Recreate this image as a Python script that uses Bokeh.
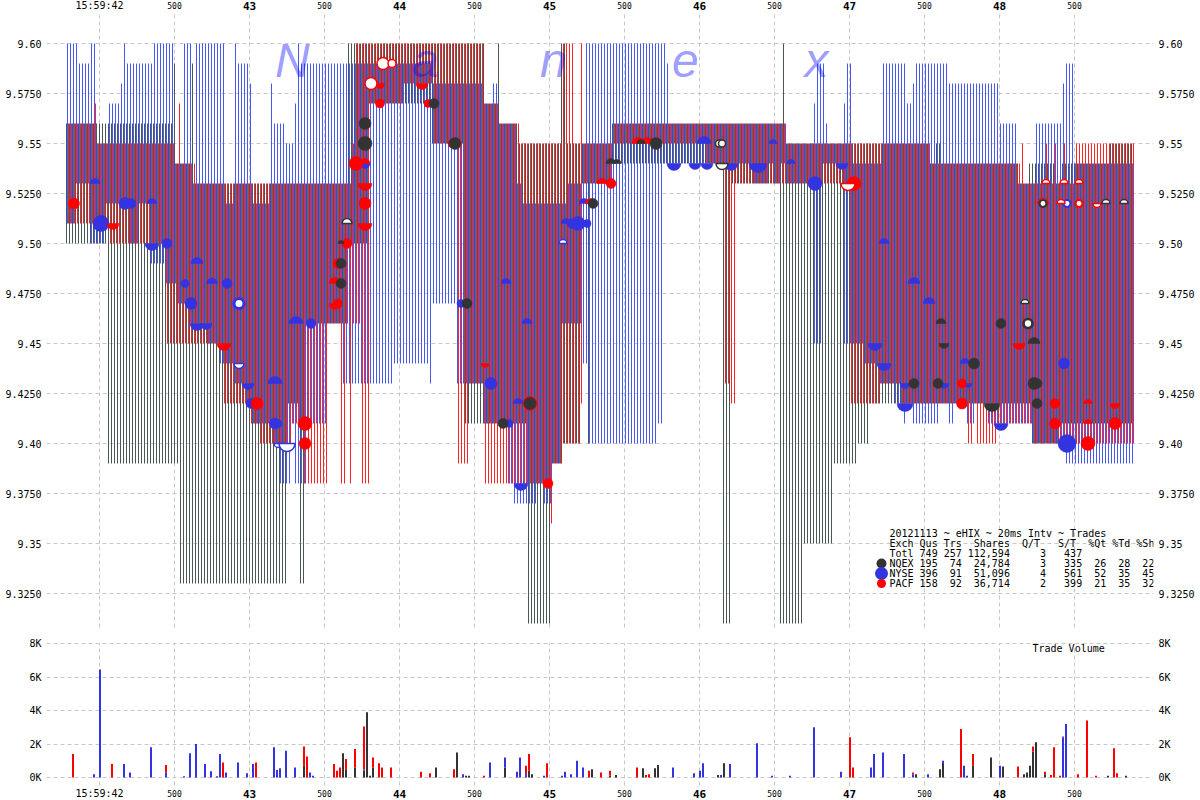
from math import pi
from bokeh.plotting import figure
from bokeh.layouts import column
from bokeh.models import Range1d, LinearAxis, Grid, FixedTicker
from bokeh.core.properties import value
from bokeh.embed import file_html
from bokeh.resources import INLINE

# x is the 20 ms interval number; 15:59:42 is interval 11
END = 356
# (first interval, price) step runs of each exchange's quote
nyse_hi = [(0,9.60),(4,9.59),(8,9.60),(10,9.55),(14,9.57),(18,9.58),(19,9.60),(20,9.59),(29,9.60),(36,9.54),(39,9.60),(42,9.53),(43,9.60),(53,9.52),(56,9.60),(57,9.59),(61,9.58),(62,9.52),(68,9.58),(69,9.56),(73,9.55),(76,9.57),(77,9.60),(78,9.59),(122,9.58),(139,9.57),(142,9.58),(144,9.56),(150,9.53),(152,9.52),(167,9.53),(172,9.55),(173,9.60),(200,9.59),(201,9.56),(240,9.55),(249,9.57),(250,9.59),(253,9.56),(254,9.55),(259,9.57),(260,9.59),(262,9.54),(272,9.59),(280,9.57),(282,9.58),(283,9.59),(294,9.58),(311,9.56),(317,9.53),(323,9.56),(332,9.58),(333,9.59),(336,9.54)]
nyse_lo = [(0,9.51),(3,9.53),(8,9.50),(13,9.52),(21,9.50),(24,9.52),(28,9.49),(33,9.48),(37,9.47),(41,9.46),(47,9.45),(51,9.44),(56,9.43),(60,9.42),(62,9.41),(69,9.40),(71,9.38),(75,9.41),(76,9.38),(80,9.41),(87,9.46),(92,9.43),(109,9.44),(121,9.43),(122,9.47),(130,9.43),(139,9.41),(147,9.38),(149,9.37),(157,9.38),(159,9.37),(162,9.39),(165,9.46),(172,9.44),(174,9.40),(197,9.41),(199,9.54),(229,9.53),(234,9.54),(236,9.53),(238,9.54),(240,9.53),(249,9.45),(252,9.54),(259,9.45),(266,9.44),(271,9.43),(276,9.42),(279,9.41),(280,9.42),(282,9.41),(291,9.42),(294,9.41),(296,9.42),(300,9.41),(303,9.42),(307,9.41),(322,9.40),(333,9.39)]
pacf_hi = [(0,9.56),(9,9.57),(10,9.55),(36,9.54),(37,9.57),(38,9.54),(43,9.53),(95,9.55),(96,9.60),(139,9.57),(144,9.56),(151,9.55),(165,9.60),(169,9.55),(171,9.60),(172,9.55),(182,9.56),(240,9.55),(288,9.54),(318,9.55),(319,9.53),(326,9.55),(327,9.53),(329,9.55),(330,9.53),(332,9.55),(333,9.53),(336,9.55)]
pacf_lo = [(0,9.51),(14,9.50),(33,9.45),(52,9.42),(61,9.41),(64,9.40),(75,9.41),(79,9.38),(87,9.46),(91,9.38),(93,9.46),(94,9.38),(95,9.46),(98,9.38),(101,9.57),(112,9.58),(122,9.55),(130,9.39),(134,9.43),(139,9.38),(161,9.36),(162,9.39),(165,9.40),(171,9.42),(172,9.53),(182,9.55),(213,9.54),(219,9.43),(221,9.42),(223,9.53),(261,9.42),(271,9.43),(278,9.42),(300,9.40),(302,9.42),(303,9.40),(310,9.41),(322,9.40)]
nqex_hi = [(0,9.56),(36,9.59),(37,9.54),(42,9.59),(43,9.53),(94,9.60),(140,9.57),(144,9.60),(145,9.56),(151,9.55),(165,9.60),(167,9.55),(182,9.56),(239,9.60),(240,9.55),(288,9.54),(290,9.55),(292,9.54),(318,9.53),(321,9.54),(330,9.53),(332,9.54),(348,9.55)]
nqex_lo = [(0,9.50),(14,9.39),(38,9.33),(74,9.42),(78,9.33),(80,9.46),(94,9.50),(101,9.57),(122,9.55),(133,9.41),(154,9.31),(162,9.39),(166,9.40),(172,9.53),(174,9.40),(175,9.53),(182,9.54),(219,9.31),(222,9.53),(238,9.31),(246,9.35),(256,9.39),(264,9.40),(268,9.42),(322,9.40),(331,9.41)]

# trades: (interval, price, marker radius, kind) o=full u=upper half d=lower half, w=hollow, x=ring
nyse_trades = [(9,9.53,5,"u"),(11,9.51,8,"o"),(19,9.52,6,"o"),(21,9.52,5,"o"),(28,9.52,5,"u"),(28,9.50,7,"d"),(33,9.50,5,"o"),(43,9.49,6,"u"),(39,9.48,4,"o"),(48,9.48,5.5,"u"),(53,9.48,5,"o"),(41,9.47,6,"o"),(57,9.47,5,"xo"),(43,9.46,7,"d"),(46,9.46,6,"d"),(76,9.46,7,"u"),(81,9.46,5,"o"),(57,9.44,5,"wd"),(60,9.43,6,"d"),(69,9.43,7,"u"),(61,9.42,5,"o"),(69,9.41,5.5,"o"),(70,9.41,4,"o"),(70,9.40,4,"wd"),(73,9.40,8,"wd"),(99,9.54,5,"d"),(146,9.48,5,"u"),(153,9.46,5,"u"),(131,9.47,4,"o"),(172,9.52,5,"u"),(166,9.51,5,"u"),(170,9.51,7,"o"),(168,9.51,5,"o"),(173,9.51,4,"o"),(165,9.50,4,"wu"),(212,9.55,7,"u"),(235,9.55,4,"u"),(241,9.54,4,"u"),(202,9.54,7,"d"),(209,9.54,6,"d"),(213,9.54,6,"d"),(221,9.54,7,"d"),(230,9.54,9,"d"),(141,9.43,6,"o"),(150,9.42,5,"u"),(147,9.41,4,"o"),(151,9.38,7,"d"),(249,9.53,7,"o"),(258,9.54,6,"d"),(272,9.50,5,"u"),(282,9.48,6,"u"),(287,9.47,6,"u"),(333,9.52,3.5,"xo"),(269,9.45,7,"d"),(272,9.44,7,"d"),(299,9.44,5,"u"),(332,9.44,5.5,"o"),(279,9.43,5,"d"),(292,9.43,5,"d"),(300,9.43,4,"d"),(279,9.42,8,"d"),(311,9.41,7,"d"),(333,9.40,9,"o")]
pacf_trades = [(2,9.52,5.5,"o"),(15,9.51,6,"d"),(52,9.45,7,"d"),(63,9.42,6,"o"),(79,9.41,7,"o"),(79,9.40,6,"o"),(93,9.50,5,"o"),(90,9.49,5,"o"),(89,9.48,6,"u"),(90,9.47,4.5,"o"),(89,9.47,6,"d"),(96,9.54,7,"o"),(99,9.54,5,"u"),(99,9.53,7,"d"),(99,9.52,6,"o"),(99,9.51,7,"d"),(104,9.57,4.5,"o"),(104,9.58,5,"d"),(101,9.58,6,"wo"),(105,9.59,6,"wo"),(108,9.59,4,"wo"),(118,9.58,6,"d"),(120,9.57,4,"o"),(128,9.55,4,"o"),(174,9.52,5,"u"),(178,9.53,5,"u"),(181,9.53,5,"o"),(190,9.55,6,"u"),(193,9.55,6,"u"),(139,9.44,4,"d"),(154,9.42,7,"o"),(160,9.38,5,"o"),(262,9.53,7,"o"),(260,9.53,7,"wd"),(326,9.53,4,"wu"),(332,9.53,4,"wu"),(337,9.53,4,"wu"),(331,9.52,4,"wu"),(337,9.52,3.5,"xo"),(343,9.52,4,"wd"),(325,9.52,5,"wu"),(317,9.45,6,"d"),(298,9.43,4.5,"o"),(298,9.42,5.5,"o"),(329,9.42,5,"o"),(340,9.42,4,"u"),(349,9.42,5,"d"),(329,9.41,5.5,"o"),(340,9.41,4,"u"),(349,9.41,6,"o"),(340,9.40,7,"o")]
nqex_trades = [(91,9.49,5,"o"),(91,9.48,5,"o"),(91,9.50,3,"u"),(93,9.51,5,"wu"),(99,9.55,7,"o"),(99,9.56,6,"o"),(122,9.57,5,"o"),(129,9.55,6,"o"),(133,9.47,5,"o"),(175,9.52,5,"o"),(181,9.54,5,"u"),(183,9.54,4,"u"),(191,9.55,4,"u"),(196,9.55,6,"o"),(217,9.55,3.5,"wo"),(218,9.55,3.5,"wo"),(218,9.54,6,"wd"),(154,9.42,6,"o"),(145,9.41,5,"o"),(319,9.47,4,"wu"),(291,9.46,5,"u"),(311,9.46,5,"o"),(320,9.46,4.5,"xo"),(292,9.45,5,"d"),(322,9.45,6,"u"),(302,9.44,5.5,"o"),(282,9.43,5,"o"),(290,9.43,5,"o"),(322,9.43,6,"o"),(323,9.43,5,"o"),(308,9.42,8,"d"),(323,9.42,5,"o"),(325,9.52,3.5,"xo"),(346,9.52,4,"wu"),(352,9.52,4,"wu")]

# trade volume in thousands of shares, (interval, K)
nqex_vol = [(79,.7),(92,1.45),(93,.5),(96,.6),(99,.4),(100,3.9),(101,.1),(102,.6),(123,.6),(130,1.5),(133,.1),(134,.1),(146,.6),(154,.4),(155,.2),(175,.5),(181,.1),(183,.15),(192,.55),(196,.55),(197,.75),(217,.15),(219,.85),(283,.2),(291,.5),(292,.8),(302,.7),(308,1.2),(312,.65),(319,.2),(320,.3),(321,.7),(322,1.55),(323,2.1),(326,.2),(347,.1),(353,.1)]
nyse_vol = [(9,.2),(11,6.45),(19,.8),(21,.3),(28,1.8),(33,.3),(39,.08),(41,1.45),(43,2.0),(46,.8),(48,.38),(50,.08),(51,1.4),(53,.3),(57,.9),(60,.25),(62,.8),(69,1.8),(70,.45),(71,.55),(73,1.6),(76,.6),(81,.3),(82,.1),(99,.1),(132,.2),(141,.9),(146,.6),(150,.35),(151,1.2),(153,.2),(159,.1),(165,.1),(166,.35),(168,.2),(170,1.0),(172,.6),(202,.6),(209,.25),(211,.4),(212,.85),(218,.15),(221,.8),(230,2.05),(235,.1),(241,.1),(249,3.0),(258,.35),(268,.6),(269,1.4),(272,1.5),(279,1.4),(282,.2),(287,.2),(292,.2),(299,.7),(300,.1),(311,.7),(332,2.4),(333,3.2)]
pacf_vol = [(2,1.4),(15,.8),(33,.45),(52,.9),(63,.9),(79,1.15),(80,1.25),(89,.8),(90,.4),(91,.6),(93,.6),(96,1.1),(99,2.55),(102,.6),(104,.85),(105,.6),(108,.6),(118,.35),(121,.25),(129,.5),(139,.1),(153,.5),(154,1.0),(160,.85),(174,.4),(178,.3),(181,.3),(190,.6),(193,.15),(194,.2),(261,2.4),(262,.6),(282,.1),(298,2.9),(302,.7),(317,.65),(322,.3),(326,.15),(328,.15),(329,1.8),(331,.1),(332,.05),(337,.2),(340,3.4),(343,.1),(349,1.75),(350,.25)]

price_ticks = [9.60,9.575,9.55,9.525,9.50,9.475,9.45,9.425,9.40,9.375,9.35,9.325]
price_labels = ["9.60","9.5750","9.55","9.5250","9.50","9.4750","9.45","9.4250","9.40","9.3750","9.35","9.3250"]
vol_ticks = [0,2,4,6,8]
vol_labels = ["0K","2K","4K","6K","8K"]
time_ticks = [11,36,61,86,111,136,161,186,211,236,261,286,311,336]
time_labels = ["15:59:42","500","43","500","44","500","45","500","46","500","47","500","48","500"]
table_rows = ["20121113 ~ eHIX ~ 20ms Intv ~ Trades",
              "Exch Qus Trs  Shares  Q/T   S/T  %Qt %Td %Sh",
              "Totl 749 257 112,594     3   437",
              "NQEX 195  74  24,784     3   335  26  28  22",
              "NYSE 396  91  51,096     4   561  52  35  45",
              "PACF 158  92  36,714     2   399  21  35  32"]
watermark = ["N","a","n","e","x"]

C_DARK, C_BLUE, C_RED = "#4a5855", "#4858f2", "#ff2222"
M_DARK, M_BLUE, M_RED = "#333333", "#3333e0", "#ff0000"
MONO = "DejaVu Sans Mono"
GRID = dict(line_color="#c8c8c8", line_dash="4 3", line_width=1)

def y_price(y):
    return 9.60 - (y - 43) / 2000

def y_vol(y):
    return (777 - y) / 16.75

xr = lambda: Range1d((46 - 66) / 3, (1153 - 66) / 3)

def make(height, yr, ticks, labels, y0, y1):
    p = figure(width=1200, height=height, frame_width=1107, frame_height=height,
               min_border_left=46, min_border_right=47, min_border_top=0, min_border_bottom=0,
               x_range=xr(), y_range=yr, x_axis_type=None, y_axis_type=None,
               toolbar_location=None, output_backend="svg", outline_line_color=None,
               background_fill_color="white", border_fill_color="white")
    for side in ("left", "right"):
        ax = LinearAxis(ticker=FixedTicker(ticks=ticks),
                        major_label_overrides=dict(zip(ticks, labels)),
                        axis_line_color=None, major_tick_line_color=None, minor_tick_line_color=None,
                        major_tick_in=0, major_tick_out=0, major_label_standoff=5,
                        major_label_text_font=MONO, major_label_text_font_size="10px",
                        major_label_text_color="#000000")
        p.add_layout(ax, side)
    p.add_layout(Grid(dimension=1, ticker=FixedTicker(ticks=ticks), grid_line_color="#c8c8c8",
                      grid_line_dash="4 3", grid_line_width=1))
    # vertical rules stop short of the time labels, so they are drawn as segments
    p.segment(x0=time_ticks, x1=time_ticks, y0=[y0] * len(time_ticks), y1=[y1] * len(time_ticks), **GRID)
    return p

def steps(runs):
    out = []
    for i, (k, v) in enumerate(runs):
        stop = runs[i + 1][0] if i + 1 < len(runs) else END
        out += [v] * (stop - k)
    return out

def draw_quotes(p, hi, lo, offset, color):
    h, l = steps(hi), steps(lo)
    keep = [k for k in range(END) if h[k] > l[k]]
    p.segment(x0=[k + offset for k in keep], x1=[k + offset for k in keep],
              y0=[l[k] for k in keep], y1=[h[k] for k in keep], line_color=color, line_width=1)

def draw_trades(p, trades, color):
    for t in trades:
        k, price, r, kind = t
        hollow = kind[0] in "wx"
        shape = kind[-1]
        fill = "white" if hollow else color
        lw = (r * 0.6 if kind[0] == "x" else 1.5) if hollow else 0.5
        if shape == "o":
            p.scatter([k + 0.5], [price], size=2 * r, marker="circle", fill_color=fill, line_color=color, line_width=lw)
        else:
            a, b = (0, pi) if shape == "u" else (pi, 2 * pi)
            p.wedge([k + 0.5], [price], radius=r, radius_units="screen", start_angle=a, end_angle=b,
                    fill_color=fill, line_color=color, line_width=lw)

def draw_times(p, y):
    for k, s in zip(time_ticks, time_labels):
        bold = s in ("43", "44", "45", "46", "47", "48")
        size = "11px" if bold else ("10px" if ":" in s else "8px")
        p.text(x=[k], y=[y], text=[s], text_font=value(MONO), text_font_size=size,
               text_font_style="bold" if bold else "normal", text_align="center",
               text_baseline="middle", text_color="#000000")

# ---- price panel
top = make(628, Range1d(y_price(628), y_price(0)), price_ticks, price_labels, y_price(627), y_price(14))
draw_quotes(top, nqex_hi, nqex_lo, 0, C_DARK)
draw_quotes(top, nyse_hi, nyse_lo, 1 / 3, C_BLUE)
draw_quotes(top, pacf_hi, pacf_lo, 2 / 3, C_RED)
draw_trades(top, nyse_trades, M_BLUE)
draw_trades(top, pacf_trades, M_RED)
draw_trades(top, nqex_trades, M_DARK)
top.text(x=[69.5, 115.2, 157.8, 201.8, 246], y=[y_price(59.5)] * 5, text=watermark,
         text_color="#0000ff", text_alpha=0.4, text_font=value("Liberation Sans"), text_font_style="italic",
         text_font_size="48px", text_baseline="alphabetic")

for row, y in zip(table_rows, [533, 543, 553, 563, 573, 583]):
    top.text(x=[(889 - 66) / 3], y=[y_price(y)], text=[row.replace(" ", "\u00a0")], text_font=value(MONO), text_font_size="10px",
             text_color="#000000", text_baseline="middle", text_align="left")
top.scatter([(881 - 66) / 3] * 3, [y_price(563), y_price(573), y_price(583)], size=[10, 13, 9],
            marker="circle", fill_color=[M_DARK, M_BLUE, M_RED], line_color=None)
draw_times(top, y_price(5))

# ---- volume panel
bot = make(172, Range1d(y_vol(800), y_vol(628)), vol_ticks, vol_labels, y_vol(785), y_vol(643))
base = {}
for vols, color in ((nqex_vol, M_DARK), (nyse_vol, M_BLUE), (pacf_vol, M_RED)):
    xs = [k + 1 / 6 for k, _ in vols]
    b0 = [base.get(k, 0) for k, _ in vols]
    b1 = [base.get(k, 0) + v for k, v in vols]
    bot.vbar(x=xs, width=2 / 3, bottom=b0, top=b1, fill_color=color, line_color=None)
    for k, v in vols:
        base[k] = base.get(k, 0) + v
bot.text(x=[(1032 - 66) / 3], y=[y_vol(648)], text=["Trade Volume"], text_font=value(MONO), text_font_size="10px",
         text_color="#000000", text_baseline="middle", text_align="left")
draw_times(bot, y_vol(793))

page = column(top, bot, spacing=0)
open("out.html", "w").write(file_html(page, INLINE))
